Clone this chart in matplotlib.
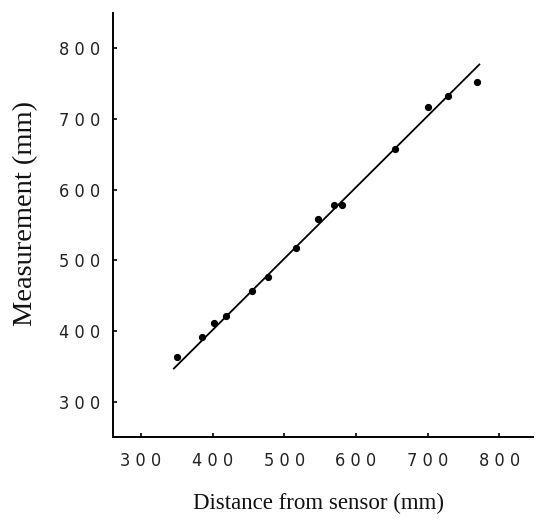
import matplotlib
matplotlib.use("Agg")
import matplotlib.pyplot as plt

# Data
distance = [351, 385, 402, 418, 455, 477, 516, 547, 569, 581, 654, 700, 728, 769]
measured = [363, 392, 412, 421, 457, 477, 517, 559, 578, 578, 658, 717, 732, 753]
fit_x = [345, 773]
fit_y = [346, 778]
x_ticks = [300, 400, 500, 600, 700, 800]
y_ticks = [300, 400, 500, 600, 700, 800]
x_ticklabels = ["3 0 0", "4 0 0", "5 0 0", "6 0 0", "7 0 0", "8 0 0"]
y_ticklabels = ["3 0 0", "4 0 0", "5 0 0", "6 0 0", "7 0 0", "8 0 0"]

fig = plt.figure(figsize=(5.37, 5.2), dpi=100)
ax = fig.add_axes([0.2104, 0.1596, 0.7822, 0.8154])

ax.plot(fit_x, fit_y, color="black", lw=1.3, solid_capstyle="butt")
ax.plot(distance, measured, "o", color="black", ms=4.2, mec="black")

ax.set_xlim(261, 847)
ax.set_ylim(250, 850)

for s in ["top", "right"]:
    ax.spines[s].set_visible(False)
for s in ["left", "bottom"]:
    ax.spines[s].set_linewidth(1.4)
    ax.spines[s].set_color("black")

tick_font = dict(family=["DejaVu Sans"], stretch="condensed", size=13, color="#222222")
ax.set_xticks(x_ticks)
ax.set_xticklabels(x_ticklabels, fontdict=tick_font)
ax.set_yticks(y_ticks)
ax.set_yticklabels(y_ticklabels, fontdict=tick_font)
ax.tick_params(axis="x", direction="in", length=3, width=1.2, pad=11)
ax.tick_params(axis="y", direction="in", length=3, width=1.2, pad=9)

xlabel_font = dict(family=["Liberation Serif", "DejaVu Serif"], size=16.5, color="#111111")
ylabel_font = dict(family=["Liberation Serif", "DejaVu Serif"], size=20.5, color="#111111")
ax.set_xlabel("Distance from sensor (mm)", fontdict=xlabel_font)
ax.set_ylabel("Measurement (mm)", fontdict=ylabel_font)
ax.xaxis.set_label_coords(0.49, -0.132)
ax.yaxis.set_label_coords(-0.179, 0.528)

fig.savefig("out.png", dpi=100)
